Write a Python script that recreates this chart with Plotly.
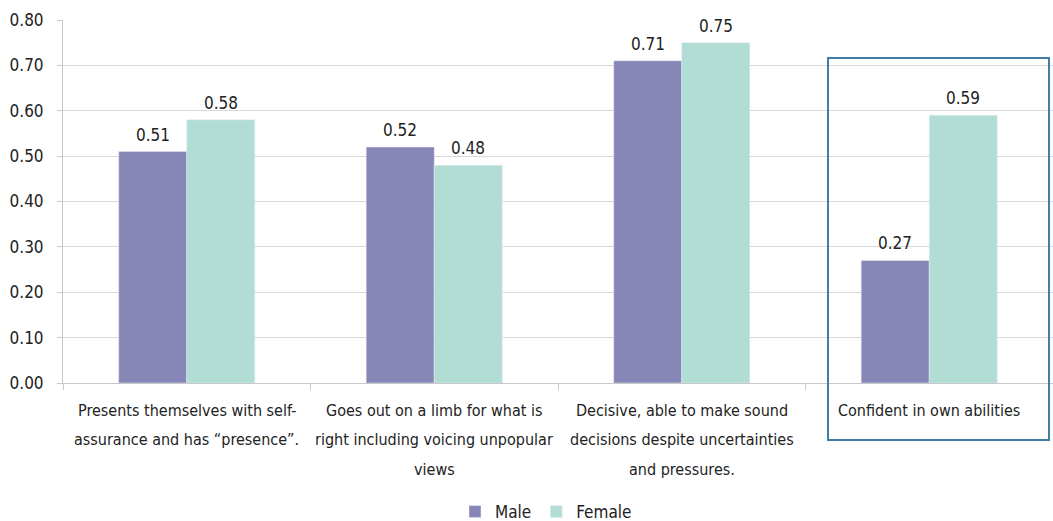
import plotly.graph_objects as go

categories = [
    "Presents themselves with self-<br>assurance and has \u201cpresence\u201d.",
    "Goes out on a limb for what is<br>right including voicing unpopular<br>views",
    "Decisive, able to make sound<br>decisions despite uncertainties<br>and pressures.",
    "Confident in own abilities",
]
male = [0.51, 0.52, 0.71, 0.27]
female = [0.58, 0.48, 0.75, 0.59]
y_ticks = [0.0, 0.1, 0.2, 0.3, 0.4, 0.5, 0.6, 0.7, 0.8]

FONT = "DejaVu Sans Condensed, Roboto, sans-serif"
W, H = 1053, 521
L, T, R = 63, 20, 0
B = H - 383
pw, ph = W - L - R, H - T - B
BARGAP = 0.45

def px_x(p):
    return (p - L) / pw

def px_y(p):
    return (H - B - p) / ph

bar_px = pw / len(categories) * (1 - BARGAP) / 2

fig = go.Figure()
fig.add_trace(go.Bar(x=categories, y=male, name="Male", marker_color="#8787b7"))
fig.add_trace(go.Bar(x=categories, y=female, name="Female", marker_color="#b2ddd4"))

for vals, sgn in ((male, -1), (female, 1)):
    for c, v in zip(categories, vals):
        fig.add_annotation(
            x=c, y=v, xref="x", yref="y", text=f"{v:.2f}", showarrow=False,
            xshift=sgn * bar_px / 2, yshift=5, yanchor="bottom",
            font=dict(size=17, family=FONT, color="#222222"),
        )

LINE_Y = [411, 440, 469]
for c in categories:
    for i, line in enumerate(c.split("<br>")):
        fig.add_annotation(
            x=c, xref="x", y=px_y(LINE_Y[i]), yref="paper", text=line,
            showarrow=False, yanchor="middle", xanchor="center",
            font=dict(size=16, family=FONT, color="#222222"),
        )

fig.update_layout(
    width=W, height=H,
    margin=dict(l=L, r=R, t=T, b=B, autoexpand=False),
    paper_bgcolor="white", plot_bgcolor="white",
    barmode="group", bargap=BARGAP, bargroupgap=0,
    font=dict(family=FONT, size=16, color="#222222"),
    showlegend=True,
    legend=dict(orientation="h", xref="container", yref="container",
                x=546 / W, xanchor="center",
                y=1 - 512 / H, yanchor="middle",
                font=dict(size=17, family=FONT), itemwidth=30),
    xaxis=dict(
        showgrid=False, showline=True, linecolor="#c8c8c8", linewidth=1,
        ticks="outside", tickson="boundaries", ticklen=6, tickcolor="#c8c8c8",
        showticklabels=False, automargin=False,
    ),
    yaxis=dict(
        range=[0, 0.8], tickvals=y_ticks,
        ticktext=[f"{v:.2f}" for v in y_ticks],
        showgrid=True, gridcolor="#d9d9d9", gridwidth=1,
        showline=True, linecolor="#c8c8c8", linewidth=1,
        ticks="outside", ticklen=5, tickcolor="#c8c8c8", automargin=False,
        ticklabelstandoff=10,
        tickfont=dict(size=17, family=FONT, color="#222222"),
        zeroline=False,
    ),
)

fig.add_shape(
    type="rect", xref="paper", yref="paper",
    x0=px_x(828), x1=px_x(1049), y0=px_y(440), y1=px_y(58),
    line=dict(color="#3f7fa6", width=2), fillcolor="rgba(0,0,0,0)", layer="above",
)

post = "document.documentElement.style.margin='0';document.body.style.margin='0';" \
       "document.body.style.overflow='hidden';"

fig.write_html("out.html", post_script=post, config={"displayModeBar": False})
